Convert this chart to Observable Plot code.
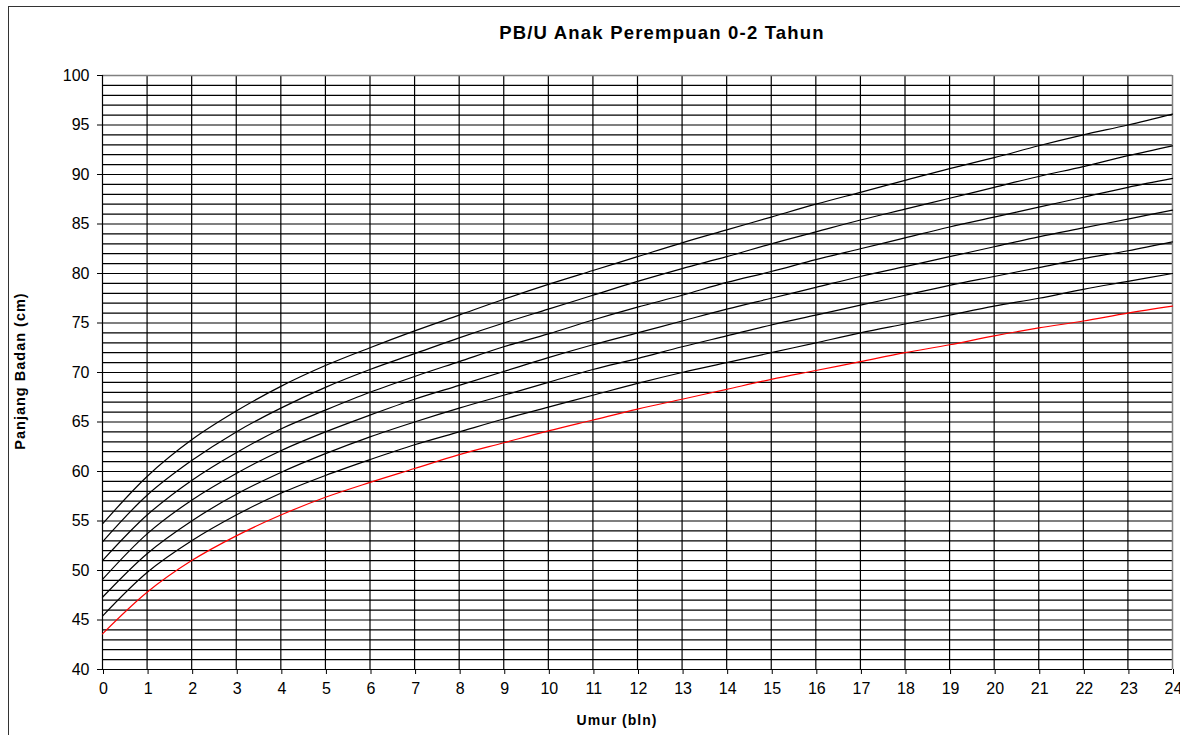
<!DOCTYPE html>
<html>
<head>
<meta charset="utf-8">
<script src="https://cdn.jsdelivr.net/npm/d3@7"></script>
<script src="https://cdn.jsdelivr.net/npm/@observablehq/plot@0.6"></script>
<style>
  html, body { margin: 0; padding: 0; background: #fff; overflow: hidden; }
  #wrap { position: relative; width: 1180px; height: 735px; overflow: hidden; font-family: "Liberation Sans", Arial, sans-serif; }
  #border { position: absolute; left: 8px; top: 6px; width: 1300px; height: 800px; border-top: 1.5px solid #333; border-left: 1.5px solid #333; box-sizing: border-box; }
  #chart { position: absolute; left: 0; top: 0; }
</style>
</head>
<body>
<div id="wrap"><div id="border"></div><div id="chart"></div></div>
<script>
const title = "PB/U Anak Perempuan 0-2 Tahun";
const xLabel = "Umur (bln)";
const yLabel = "Panjang Badan (cm)";
const months = [0,1,2,3,4,5,6,7,8,9,10,11,12,13,14,15,16,17,18,19,20,21,22,23,24];
const sdMinus3 = [43.6,47.8,51.0,53.5,55.6,57.4,58.9,60.3,61.7,62.9,64.1,65.2,66.3,67.3,68.3,69.3,70.2,71.1,72.0,72.8,73.7,74.5,75.2,76.0,76.7];
const sdMinus2 = [45.4,49.8,53.0,55.6,57.8,59.6,61.2,62.7,64.0,65.3,66.5,67.7,68.9,70.0,71.0,72.0,73.0,74.0,74.9,75.8,76.7,77.5,78.4,79.2,80.0];
const sdMinus1 = [47.3,51.7,55.0,57.7,59.9,61.8,63.5,65.0,66.4,67.7,69.0,70.3,71.4,72.6,73.7,74.8,75.8,76.8,77.8,78.8,79.7,80.6,81.5,82.3,83.2];
const median   = [49.1,53.7,57.1,59.8,62.1,64.0,65.7,67.3,68.7,70.1,71.5,72.8,74.0,75.2,76.4,77.5,78.6,79.7,80.7,81.7,82.7,83.7,84.6,85.5,86.4];
const sdPlus1  = [51.0,55.6,59.1,61.9,64.3,66.2,68.0,69.6,71.1,72.6,73.9,75.3,76.6,77.8,79.1,80.2,81.4,82.5,83.6,84.7,85.7,86.7,87.7,88.7,89.6];
const sdPlus2  = [52.9,57.6,61.1,64.0,66.4,68.5,70.3,71.9,73.5,75.0,76.4,77.8,79.2,80.5,81.7,83.0,84.2,85.4,86.5,87.6,88.7,89.8,90.8,91.9,92.9];
const sdPlus3  = [54.7,59.5,63.2,66.1,68.6,70.7,72.5,74.2,75.8,77.4,78.9,80.3,81.7,83.1,84.4,85.7,87.0,88.2,89.4,90.6,91.7,92.9,94.0,95.0,96.1];
const seriesNames = ["-3 SD","-2 SD","-1 SD","Median","+1 SD","+2 SD","+3 SD"];
const seriesValues = [sdMinus3, sdMinus2, sdMinus1, median, sdPlus1, sdPlus2, sdPlus3];
const seriesColors = ["#ff0000","#000000","#000000","#000000","#000000","#000000","#000000"];
const yTicks = [40,45,50,55,60,65,70,75,80,85,90,95,100];

const rows = [];
seriesValues.forEach((vals, si) => {
  vals.forEach((v, i) => rows.push({series: seriesNames[si], month: months[i], value: v}));
});

const hGrid = d3.range(41, 100);
const vGrid = d3.range(1, 24);

const chart = Plot.plot({
  width: 1180,
  height: 735,
  marginLeft: 102,
  marginRight: 8,
  marginTop: 75,
  marginBottom: 66,
  style: {fontFamily: "'Liberation Sans', Arial, sans-serif", background: "transparent", overflow: "visible"},
  x: {domain: [0, 24]},
  y: {domain: [40, 100]},
  color: {domain: seriesNames, range: seriesColors},
  marks: [
    Plot.ruleY(hGrid, {stroke: "#000", strokeWidth: 1.2}),
    Plot.ruleX(vGrid, {stroke: "#000", strokeWidth: 1.2}),
    Plot.ruleY([100], {stroke: "#808080", strokeWidth: 1.5}),
    Plot.ruleX([24], {stroke: "#808080", strokeWidth: 1.5}),
    Plot.ruleY([40], {stroke: "#000", strokeWidth: 1.2}),
    Plot.ruleX([0], {stroke: "#000", strokeWidth: 1.2}),
    Plot.line(rows, {x: "month", y: "value", z: "series", stroke: "series", strokeWidth: 1.2, curve: "catmull-rom"}),
    Plot.axisY(yTicks, {tickSize: 5, tickPadding: 8, fontSize: 16, label: null, stroke: "#000", color: "#000"}),
    Plot.axisX(months, {tickSize: 5, tickPadding: 8, fontSize: 16, label: null, stroke: "#000", color: "#000", dx: 1, tickFormat: d => String(d)})
  ]
});
document.getElementById("chart").appendChild(chart);

const svg = d3.select(chart);
svg.append("text").attr("x", 662).attr("y", 39).attr("text-anchor", "middle")
  .attr("font-size", 18.5).attr("font-weight", "bold").attr("letter-spacing", "1.2px").attr("fill", "#000").text(title);
svg.append("text").attr("x", 617).attr("y", 725).attr("text-anchor", "middle")
  .attr("font-size", 14).attr("font-weight", "bold").attr("letter-spacing", "1px").attr("fill", "#000").text(xLabel);
svg.append("text").attr("transform", "translate(25,371) rotate(-90)").attr("text-anchor", "middle")
  .attr("font-size", 14.5).attr("font-weight", "bold").attr("letter-spacing", "1px").attr("fill", "#000").text(yLabel);
</script>
</body>
</html>
